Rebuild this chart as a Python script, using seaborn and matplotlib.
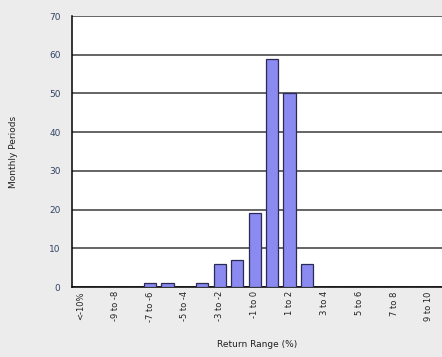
import numpy as np
import matplotlib
matplotlib.use('Agg')
import matplotlib.pyplot as plt
from matplotlib.ticker import FixedLocator
import seaborn as sns

# return range buckets (%) and number of monthly periods in each
categories = ['<-10%', '-10 to -9', '-9 to -8', '-8 to -7', '-7 to -6', '-6 to -5',
              '-5 to -4', '-4 to -3', '-3 to -2', '-2 to -1', '-1 to 0', '0 to 1',
              '1 to 2', '2 to 3', '3 to 4', '4 to 5', '5 to 6', '6 to 7',
              '7 to 8', '8 to 9', '9 to 10']
periods = [0, 0, 0, 0, 1, 1, 0, 1, 6, 7, 19, 59, 50, 6, 0, 0, 0, 0, 0, 0, 0]
y_ticks = [0, 10, 20, 30, 40, 50, 60, 70]

sns.set_style('white')
plt.rcParams['font.family'] = ['DejaVu Sans']

fig = plt.figure(figsize=(4.42, 3.57), dpi=100)
fig.patch.set_facecolor('#ececec')
ax = fig.add_axes([0.162, 0.196, 0.84, 0.759])
ax.set_facecolor('white')

sns.barplot(x=categories, y=periods, color='#8a8af0', edgecolor='#2a2a55',
            linewidth=0.9, width=0.7, saturation=1, ax=ax, zorder=3)

ax.set_ylim(0, 70)
ax.set_xlim(-0.5, 20.8)
ax.set_yticks(y_ticks)
ax.yaxis.grid(True, color='#3a3a3a', linewidth=1.1, zorder=1)
ax.set_axisbelow(True)

# labels on every other bucket, tick marks on the bucket boundaries
idx = np.arange(0, len(categories), 2)
ax.xaxis.set_major_locator(FixedLocator(idx))
ax.set_xticklabels([categories[i] for i in idx], rotation=90, fontsize=6, color='#222222')
ax.xaxis.set_minor_locator(FixedLocator(np.arange(-0.5, len(categories), 1)))
ax.tick_params(axis='x', which='major', length=0, pad=3)
ax.tick_params(axis='x', which='minor', length=4, width=0.8, color='black', direction='out')
ax.tick_params(axis='y', length=4, width=0.8, color='black', direction='out',
               labelsize=6.5, labelcolor='#334466', pad=4)

for side in ['top', 'right']:
    ax.spines[side].set_visible(False)
ax.spines['left'].set_color('black')
ax.spines['left'].set_linewidth(1.1)
ax.spines['bottom'].set_color('black')
ax.spines['bottom'].set_linewidth(1.1)

ax.set_xlabel('Return Range (%)', fontsize=6.5, color='#222222', labelpad=13)
ax.set_ylabel('Monthly Periods', fontsize=6.5, color='#222222', labelpad=22)

fig.savefig('out.png', dpi=100, facecolor=fig.get_facecolor())
